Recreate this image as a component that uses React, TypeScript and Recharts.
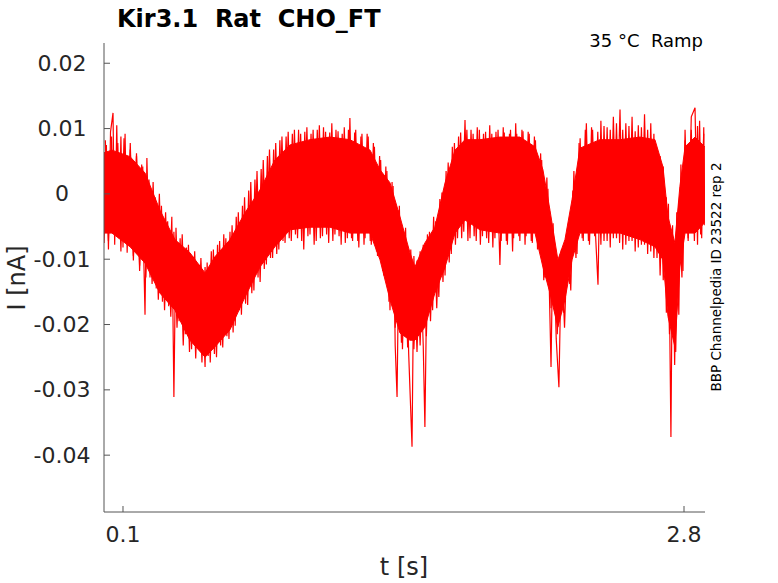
import { Area, ComposedChart, Line, XAxis, YAxis } from 'recharts';

// core band of the trace (t in s, current in nA)
const bandT = [
  0.0086, 0.047, 0.134, 0.206, 0.278, 0.35, 0.422, 0.495, 0.543, 0.615, 0.687, 0.759, 0.831, 0.904,
  1.0, 1.096, 1.192, 1.289, 1.337, 1.385, 1.433, 1.481, 1.505, 1.553, 1.601, 1.65, 1.698, 1.746,
  1.818, 1.914, 2.01, 2.083, 2.121, 2.155, 2.193, 2.227, 2.261, 2.299, 2.395, 2.492, 2.588, 2.66,
  2.699, 2.723, 2.756, 2.78, 2.805, 2.853, 2.9,
];
const bandHi = [
  0.0063, 0.0067, 0.0057, 0.0032, -0.0025, -0.007, -0.009, -0.0121, -0.0096, -0.007, -0.0029, 0.0006, 0.0052, 0.0075,
  0.0083, 0.0087, 0.0083, 0.0067, 0.0037, 0.0017, -0.0035, -0.009, -0.0112, -0.0075, -0.0051, 0.0017, 0.0067, 0.0083,
  0.0083, 0.0087, 0.0087, 0.0072, 0.0037, -0.0025, -0.0101, -0.007, -0.0009, 0.007, 0.0083, 0.0083, 0.0087, 0.0083,
  0.0041, -0.0035, -0.0075, 0.0011, 0.0072, 0.0087, 0.0072,
];
const bandLo = [
  -0.006, -0.006, -0.0081, -0.0106, -0.0152, -0.0178, -0.0224, -0.025, -0.0234, -0.0208, -0.0158, -0.0112, -0.0081, -0.0055,
  -0.0051, -0.0051, -0.006, -0.006, -0.0101, -0.0162, -0.0213, -0.0224, -0.0224, -0.0204, -0.0152, -0.0112, -0.006, -0.004,
  -0.0055, -0.006, -0.006, -0.006, -0.0112, -0.0152, -0.0204, -0.0162, -0.0101, -0.006, -0.006, -0.006, -0.007, -0.0081,
  -0.0101, -0.0188, -0.0234, -0.0112, -0.006, -0.006, -0.0044,
];

// noise peaks, in order
const peakT = [
  0.009, 0.02, 0.03, 0.04, 0.052, 0.06, 0.07, 0.08, 0.09, 0.1, 0.11, 0.12, 0.135, 0.15, 0.165, 0.18, 0.19, 0.206,
  0.215, 0.23, 0.245, 0.26, 0.275, 0.29, 0.305, 0.32, 0.335, 0.345, 0.355, 0.37, 0.385, 0.4, 0.415, 0.43, 0.445,
  0.46, 0.475, 0.495, 0.505, 0.52, 0.535, 0.55, 0.565, 0.58, 0.595, 0.61, 0.625, 0.64, 0.655, 0.67, 0.685, 0.7,
  0.715, 0.73, 0.745, 0.76, 0.775, 0.79, 0.805, 0.82, 0.835, 0.85, 0.865, 0.88, 0.895, 0.91, 0.925, 0.94, 0.955,
  0.97, 0.985, 1.0, 1.015, 1.03, 1.045, 1.06, 1.075, 1.09, 1.105, 1.12, 1.135, 1.15, 1.165, 1.18, 1.192, 1.205,
  1.22, 1.235, 1.25, 1.265, 1.28, 1.295, 1.31, 1.325, 1.34, 1.355, 1.37, 1.385, 1.4, 1.41, 1.419, 1.43, 1.445,
  1.46, 1.475, 1.491, 1.5, 1.515, 1.53, 1.545, 1.553, 1.565, 1.58, 1.595, 1.61, 1.625, 1.64, 1.655, 1.67, 1.685,
  1.7, 1.715, 1.73, 1.746, 1.76, 1.775, 1.79, 1.805, 1.82, 1.835, 1.85, 1.865, 1.88, 1.895, 1.914, 1.93, 1.945,
  1.96, 1.975, 1.99, 2.005, 2.02, 2.035, 2.05, 2.065, 2.08, 2.095, 2.11, 2.125, 2.14, 2.16, 2.17, 2.185, 2.198,
  2.21, 2.225, 2.24, 2.255, 2.27, 2.285, 2.3, 2.315, 2.33, 2.345, 2.36, 2.375, 2.386, 2.4, 2.415, 2.43, 2.445,
  2.46, 2.475, 2.492, 2.505, 2.52, 2.535, 2.55, 2.565, 2.58, 2.595, 2.61, 2.625, 2.64, 2.655, 2.67, 2.685, 2.7,
  2.715, 2.725, 2.737, 2.745, 2.755, 2.765, 2.775, 2.785, 2.795, 2.805, 2.82, 2.835, 2.853, 2.865, 2.875, 2.885,
  2.895, 2.9,
];
const peakV = [
  -0.0075, 0.0075, -0.0085, 0.0095, 0.0124, -0.0078, 0.0105, -0.0068, 0.0088, -0.0082, 0.0092, -0.009, 0.0078,
  -0.0095, 0.0062, -0.011, 0.0045, -0.0185, 0.0055, -0.0128, 0.0018, -0.0145, 0.0, -0.0165, -0.0028, -0.0172,
  -0.0035, -0.0311, -0.0052, -0.0195, -0.0062, -0.0215, -0.0078, -0.0238, -0.0088, -0.0228, -0.0098, -0.0265,
  -0.0105, -0.0258, -0.0085, -0.025, -0.0072, -0.0235, -0.0068, -0.0222, -0.0048, -0.0202, -0.0028, -0.0185,
  -0.0005, -0.017, 0.0018, -0.0148, 0.0035, -0.0135, 0.0052, -0.0108, 0.0068, -0.0098, 0.0078, -0.0085, 0.0088,
  -0.0075, 0.0095, -0.0072, 0.0098, -0.0068, 0.0092, -0.0085, 0.0102, -0.0062, 0.0098, -0.0072, 0.0105, -0.0065,
  0.0095, -0.0075, 0.0108, -0.0062, 0.0096, -0.0078, 0.0102, -0.0068, 0.0116, -0.0072, 0.0098, -0.0082, 0.0092,
  -0.0068, 0.0088, -0.0078, 0.0072, -0.0095, 0.0052, -0.0125, 0.0035, -0.0178, 0.0012, -0.0232, -0.0311, -0.0018,
  -0.0238, -0.0052, -0.0245, -0.0387, -0.0095, -0.0242, -0.0088, -0.0232, -0.0357, -0.0062, -0.0195, -0.0035,
  -0.0175, -0.0008, -0.0135, 0.0035, -0.0105, 0.0072, -0.0078, 0.0088, -0.0068, 0.0113, -0.0072, 0.0098, -0.0065,
  0.0102, -0.0078, 0.0092, -0.0068, 0.0105, -0.0082, 0.0095, -0.0109, 0.0102, -0.0072, 0.0092, -0.0088, 0.0108,
  -0.0065, 0.0098, -0.0078, 0.0095, -0.0072, 0.0088, -0.0085, 0.0062, -0.0132, 0.0025, -0.0265, -0.0045, -0.0222,
  -0.0296, -0.0085, -0.0205, -0.0058, -0.0148, 0.0035, -0.0092, 0.0085, -0.0072, 0.0108, -0.0078, 0.0098, -0.0068,
  -0.0139, 0.0112, -0.0072, 0.0102, -0.0082, 0.0118, -0.0068, 0.0129, -0.0085, 0.0108, -0.0072, 0.0118, -0.0088,
  0.0105, -0.0078, 0.0122, -0.0092, 0.0108, -0.0098, 0.0068, -0.0125, 0.0042, -0.0182, -0.0015, -0.0372, -0.0048,
  -0.0262, -0.0028, -0.0185, 0.0045, -0.0118, 0.0098, -0.0072, 0.0118, 0.0132, -0.0078, 0.0112, -0.0068, 0.0102,
  -0.0048,
];

// second pass of smaller noise peaks along the band edges
const fringeT = [
  0.015, 0.03, 0.045, 0.06, 0.075, 0.09, 0.105, 0.12, 0.135, 0.15, 0.165, 0.18, 0.195,
  0.21, 0.225, 0.24, 0.255, 0.27, 0.285, 0.3, 0.315, 0.33, 0.345, 0.36, 0.375, 0.39, 0.405, 0.42, 0.435, 0.45,
  0.465, 0.48, 0.495, 0.51, 0.525, 0.54, 0.555, 0.57, 0.585, 0.6, 0.615, 0.63, 0.645, 0.66, 0.675, 0.69, 0.705,
  0.72, 0.735, 0.75, 0.765, 0.78, 0.795, 0.81, 0.825, 0.84, 0.855, 0.87, 0.885, 0.9, 0.915, 0.93, 0.945, 0.96,
  0.975, 0.99, 1.005, 1.02, 1.035, 1.05, 1.065, 1.08, 1.095, 1.11, 1.125, 1.14, 1.155, 1.17, 1.185, 1.2, 1.215,
  1.23, 1.245, 1.26, 1.275, 1.29, 1.305, 1.32, 1.335, 1.35, 1.365, 1.38, 1.395, 1.41, 1.425, 1.44, 1.455, 1.47,
  1.485, 1.5, 1.515, 1.53, 1.545, 1.56, 1.575, 1.59, 1.605, 1.62, 1.635, 1.65, 1.665, 1.68, 1.695, 1.71, 1.725,
  1.74, 1.755, 1.77, 1.785, 1.8, 1.815, 1.83, 1.845, 1.86, 1.875, 1.89, 1.905, 1.92, 1.935, 1.95, 1.965, 1.98,
  1.995, 2.01, 2.025, 2.04, 2.055, 2.07, 2.085, 2.1, 2.115, 2.13, 2.145, 2.16, 2.175, 2.19, 2.205, 2.22, 2.235,
  2.25, 2.265, 2.28, 2.295, 2.31, 2.325, 2.34, 2.355, 2.37, 2.385, 2.4, 2.415, 2.43, 2.445, 2.46, 2.475, 2.49,
  2.505, 2.52, 2.535, 2.55, 2.565, 2.58, 2.595, 2.61, 2.625, 2.64, 2.655, 2.67, 2.685, 2.7, 2.715, 2.73, 2.745,
  2.76, 2.775, 2.79, 2.805, 2.82, 2.835, 2.85, 2.865, 2.88, 2.895,
];
const fringeV = [
  0.0082, -0.0072, 0.0088, -0.0065, 0.0078, -0.0088, 0.0085, -0.0078, 0.0068, -0.0102, 0.0058, -0.0118, 0.0042,
  -0.0128, 0.0022, -0.0138, -0.0005, -0.0162, -0.0018, -0.0178, -0.0042, -0.0188, -0.0058, -0.0205, -0.0068,
  -0.0232, -0.0082, -0.0242, -0.0095, -0.0252, -0.0108, -0.0258, -0.0112, -0.0248, -0.0088, -0.0245, -0.0078,
  -0.0232, -0.0062, -0.0218, -0.0058, -0.0212, -0.0035, -0.0178, -0.0018, -0.0168, 0.0005, -0.0152, 0.0022,
  -0.0128, 0.0038, -0.0115, 0.0058, -0.0098, 0.0068, -0.0092, 0.0082, -0.0072, 0.0088, -0.0068, 0.0092, -0.0062,
  0.0098, -0.0072, 0.0095, -0.0065, 0.0092, -0.0078, 0.0098, -0.0068, 0.0102, -0.0062, 0.0094, -0.0072, 0.0098,
  -0.0065, 0.0092, -0.0075, 0.0098, -0.0068, 0.0094, -0.0072, 0.0088, -0.0078, 0.0092, -0.0072, 0.0078, -0.0088,
  0.0058, -0.0118, 0.0042, -0.0165, 0.0018, -0.0205, -0.0025, -0.0228, -0.0065, -0.0235, -0.0085, -0.0238,
  -0.0102, -0.0232, -0.0078, -0.0218, -0.0058, -0.0178, -0.0042, -0.0158, 0.0002, -0.0125, 0.0048, -0.0092,
  0.0078, -0.0068, 0.0094, -0.0058, 0.0098, -0.0068, 0.0092, -0.0072, 0.0098, -0.0065, 0.0095, -0.0075, 0.0092,
  -0.0068, 0.0098, -0.0072, 0.0094, -0.0078, 0.0098, -0.0068, 0.0092, -0.0072, 0.0096, -0.0065, 0.0092, -0.0075,
  0.0082, -0.0082, 0.0052, -0.0128, 0.0008, -0.0175, -0.0068, -0.0215, -0.0092, -0.0182, -0.0062, -0.0138,
  0.0005, -0.0098, 0.0078, -0.0068, 0.0098, -0.0072, 0.0102, -0.0065, 0.0095, -0.0078, 0.0104, -0.0072, 0.0098,
  -0.0068, 0.0108, -0.0075, 0.0098, -0.0078, 0.0104, -0.0072, 0.0096, -0.0082, 0.0102, -0.0078, 0.0098, -0.0088,
  0.0092, -0.0098, 0.0058, -0.0132, -0.0005, -0.0215, -0.0072, -0.0242, -0.0012, -0.0128, 0.0082, -0.0068,
  0.0098, -0.0072, 0.0104, -0.0062, 0.0092,
];

const xTicks = [0.1, 2.8];
const yTicks = [-0.04, -0.03, -0.02, -0.01, 0, 0.01, 0.02];

const band = bandT.map((t, i) => ({ t, range: [bandLo[i], bandHi[i]] }));
const peaks = peakT.map((t, i) => ({ t, v: peakV[i] }));
const fringe = fringeT.map((t, i) => ({ t, v: fringeV[i] }));

const RED = '#ff0000';
const AXIS = '#555555';
const TEXT = '#262626';
const FONT = '"DejaVu Sans", sans-serif';

function TickText(props: any) {
  const { x, y, payload } = props;
  return (
    <text x={x} y={y} textAnchor="middle" dominantBaseline="central" fill={TEXT} fontSize={22} fontFamily={FONT}>
      {String(payload.value)}
    </text>
  );
}

export default function App() {
  return (
    <div style={{ position: 'absolute', left: 0, top: 0, width: 778, height: 583, background: '#fff' }}>
      <ComposedChart width={778} height={583} margin={{ top: 43, right: 73, bottom: 0, left: 0 }}>
        <XAxis
          dataKey="t"
          type="number"
          domain={[0.0086, 2.901]}
          ticks={xTicks}
          allowDataOverflow
          height={71}
          stroke={AXIS}
          tickSize={-6}
          tickMargin={28}
          tick={<TickText />}
        />
        <YAxis
          type="number"
          domain={[-0.0487, 0.0231]}
          ticks={yTicks}
          allowDataOverflow
          width={104}
          stroke={AXIS}
          tickSize={-6}
          tickMargin={48}
          tick={<TickText />}
        />
        <Area
          data={band}
          dataKey="range"
          type="linear"
          stroke={RED}
          strokeWidth={1}
          fill={RED}
          fillOpacity={1}
          dot={false}
          activeDot={false}
          isAnimationActive={false}
        />
        <Line
          data={fringe}
          dataKey="v"
          type="linear"
          stroke={RED}
          strokeWidth={1.2}
          dot={false}
          activeDot={false}
          isAnimationActive={false}
        />
        <Line
          data={peaks}
          dataKey="v"
          type="linear"
          stroke={RED}
          strokeWidth={1.2}
          dot={false}
          activeDot={false}
          isAnimationActive={false}
        />
      </ComposedChart>
      <svg
        width={778}
        height={583}
        style={{ position: 'absolute', left: 0, top: 0, pointerEvents: 'none' }}
        fontFamily={FONT}
      >
        <text x={117} y={27} fontSize={24} fontWeight="bold" fill="#000" style={{ whiteSpace: 'pre' }}>
          Kir3.1  Rat  CHO_FT
        </text>
        <text x={703} y={47} fontSize={18} textAnchor="end" fill="#000" style={{ whiteSpace: 'pre' }}>
          35 °C  Ramp
        </text>
        <text
          x={716}
          y={277}
          fontSize={13.5}
          textAnchor="middle"
          dominantBaseline="central"
          fill="#000"
          transform="rotate(-90 716 277)"
        >
          BBP Channelpedia ID 23522 rep 2
        </text>
        <text
          x={17}
          y={278}
          fontSize={24}
          textAnchor="middle"
          dominantBaseline="central"
          fill={TEXT}
          transform="rotate(-90 17 278)"
        >
          I [nA]
        </text>
        <text x={404} y={575} fontSize={24} textAnchor="middle" fill={TEXT}>
          t [s]
        </text>
      </svg>
    </div>
  );
}
